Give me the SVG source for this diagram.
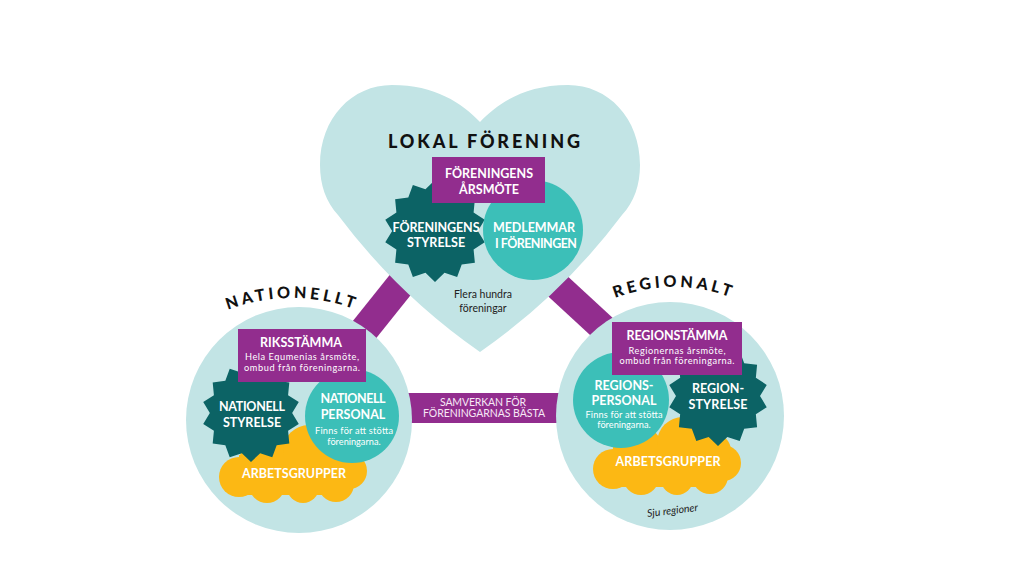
<svg xmlns="http://www.w3.org/2000/svg" xmlns:xlink="http://www.w3.org/1999/xlink" width="1024" height="576" viewBox="0 0 1024 576">
  <style>
    .bg { fill: #c2e4e5; }
    .purple { fill: #922d8e; }
    .dark { fill: #0c6365; }
    .teal { fill: #3cbfb8; }
    .yellow { fill: #fcb814; }
    .lbl { font-family: Lato, "Liberation Sans", sans-serif; font-weight: 700; font-size: 12.5px; fill: #ffffff; text-anchor: middle; }
    .small { font-family: Lato, "Liberation Sans", sans-serif; font-weight: 400; font-size: 9.2px; fill: #ffffff; text-anchor: middle; }
    .dark-txt { font-family: Lato, "Liberation Sans", sans-serif; font-weight: 400; font-size: 10.5px; fill: #222222; text-anchor: middle; }
    .arc { font-family: Lato, "Liberation Sans", sans-serif; font-weight: 900; font-size: 16px; fill: #111111; text-anchor: middle; }
    .bar-txt { font-family: Lato, "Liberation Sans", sans-serif; font-weight: 400; font-size: 10.5px; fill: #f7e8f6; text-anchor: middle; }
  </style>
  <defs>
    <polygon id="star" points="0,-1 0.1869,-0.8189 0.4339,-0.9010 0.5237,-0.6567 0.7818,-0.6235 0.7568,-0.3645 0.9749,-0.2225 0.84,0 0.9749,0.2225 0.7568,0.3645 0.7818,0.6235 0.5237,0.6567 0.4339,0.9010 0.1869,0.8189 0,1 -0.1869,0.8189 -0.4339,0.9010 -0.5237,0.6567 -0.7818,0.6235 -0.7568,0.3645 -0.9749,0.2225 -0.84,0 -0.9749,-0.2225 -0.7568,-0.3645 -0.7818,-0.6235 -0.5237,-0.6567 -0.4339,-0.9010 -0.1869,-0.8189"/>
    <g id="cloud">
      <circle cx="20" cy="52" r="20"/>
      <circle cx="48" cy="60" r="18"/>
      <circle cx="84" cy="62" r="16"/>
      <circle cx="117" cy="59" r="18"/>
      <circle cx="130" cy="46" r="18"/>
      <circle cx="45" cy="32" r="24"/>
      <circle cx="90" cy="26" r="26"/>
      <circle cx="120" cy="34" r="18"/>
      <rect x="20" y="30" width="110" height="40"/>
    </g>
    <path id="arcNat" d="M112,478 A180,180 0 0 1 472,478"/>
    <path id="arcReg" d="M512,449 A162,162 0 0 1 836,449"/>
  </defs>

  <g id="connectors">
    <line x1="433" y1="244" x2="345" y2="354" stroke="#922d8e" stroke-width="29"/>
    <line x1="525" y1="256" x2="628" y2="351" stroke="#922d8e" stroke-width="28"/>
    <g id="samverkan">
      <rect class="purple" x="400" y="393" width="165" height="30"/>
      <text class="bar-txt" x="483" y="405.5" textLength="86">SAMVERKAN FÖR</text>
      <text class="bar-txt" x="484" y="417" textLength="122">FÖRENINGARNAS BÄSTA</text>
    </g>
  </g>

  <g id="lokal-forening">
    <path class="bg" d="M480,352 Q398,295 338,215 C326,202 320,185 320,165 C320,118 352,85 392,85 C435,85 462,103 480,122 C498,103 525,85 568,85 C608,85 640,118 640,165 C640,185 634,202 622,215 Q562,295 480,352 Z"/>
    <text x="484" y="148" style="font-family: Lato, 'Liberation Sans', sans-serif; font-weight: 900; font-size: 18px; fill: #111;" text-anchor="middle" textLength="192">LOKAL FÖRENING</text>
    <g id="foreningens-styrelse">
      <use href="#star" class="dark" transform="translate(435,231) scale(51)"/>
      <text class="lbl" x="436" y="231.5" textLength="87">FÖRENINGENS</text>
      <text class="lbl" x="436" y="247">STYRELSE</text>
    </g>
    <g id="medlemmar">
      <circle class="teal" cx="533" cy="230" r="50"/>
      <text class="lbl" x="534" y="232" textLength="82">MEDLEMMAR</text>
      <text class="lbl" x="536" y="247.5" textLength="82">I FÖRENINGEN</text>
    </g>
    <g id="foreningens-arsmote">
      <rect class="purple" x="432" y="157" width="113" height="46"/>
      <text class="lbl" x="489" y="178" textLength="88">FÖRENINGENS</text>
      <text class="lbl" x="489" y="194">ÅRSMÖTE</text>
    </g>
    <text class="dark-txt" x="483" y="298">Flera hundra</text>
    <text class="dark-txt" x="483" y="311.5">föreningar</text>
  </g>

  <g id="nationellt">
    <text class="arc" letter-spacing="3.5"><textPath href="#arcNat" startOffset="50%">NATIONELLT</textPath></text>
    <circle class="bg" cx="299" cy="420" r="113"/>
    <g id="arbetsgrupper-nat">
      <use href="#cloud" class="yellow" transform="translate(219,425)"/>
      <text class="lbl" x="294" y="478" textLength="104">ARBETSGRUPPER</text>
    </g>
    <g id="nationell-styrelse">
      <use href="#star" class="dark" transform="translate(251,413) scale(49)"/>
      <text class="lbl" x="252" y="411" textLength="66">NATIONELL</text>
      <text class="lbl" x="252" y="426.5">STYRELSE</text>
    </g>
    <g id="nationell-personal">
      <circle class="teal" cx="352" cy="416" r="47"/>
      <text class="lbl" x="353" y="403" textLength="65">NATIONELL</text>
      <text class="lbl" x="353" y="419">PERSONAL</text>
      <text class="small" x="354" y="434" textLength="78">Finns för att stötta</text>
      <text class="small" x="354" y="445">föreningarna.</text>
    </g>
    <g id="riksstamma">
      <rect class="purple" x="238" y="329" width="128" height="53"/>
      <text class="lbl" x="301" y="346.5" textLength="82">RIKSSTÄMMA</text>
      <text class="small" x="302" y="360" textLength="114">Hela Equmenias årsmöte,</text>
      <text class="small" x="302" y="371" textLength="116">ombud från föreningarna.</text>
    </g>
  </g>

  <g id="regionalt">
    <text class="arc" letter-spacing="3.5"><textPath href="#arcReg" startOffset="50%">REGIONALT</textPath></text>
    <circle class="bg" cx="670" cy="416" r="114"/>
    <g id="arbetsgrupper-reg">
      <use href="#cloud" class="yellow" transform="translate(593,417)"/>
      <text class="lbl" x="668" y="466" textLength="105">ARBETSGRUPPER</text>
    </g>
    <g id="region-styrelse">
      <use href="#star" class="dark" transform="translate(718,396) scale(50)"/>
      <text class="lbl" x="718" y="393">REGION-</text>
      <text class="lbl" x="718" y="409" textLength="59">STYRELSE</text>
    </g>
    <g id="regions-personal">
      <circle class="teal" cx="621" cy="400" r="48"/>
      <text class="lbl" x="624" y="390">REGIONS-</text>
      <text class="lbl" x="624" y="405" textLength="65">PERSONAL</text>
      <text class="small" x="624" y="418" textLength="77">Finns för att stötta</text>
      <text class="small" x="624" y="428">föreningarna.</text>
    </g>
    <g id="regionstamma">
      <rect class="purple" x="612" y="322" width="130" height="53"/>
      <text class="lbl" x="677" y="340" textLength="101">REGIONSTÄMMA</text>
      <text class="small" x="677" y="353.5" textLength="97">Regionernas årsmöte,</text>
      <text class="small" x="677" y="363.5" textLength="115">ombud från föreningarna.</text>
    </g>
    <text class="dark-txt" x="673" y="514" font-style="italic" transform="rotate(-7 673 514)">Sju regioner</text>
  </g>
</svg>
